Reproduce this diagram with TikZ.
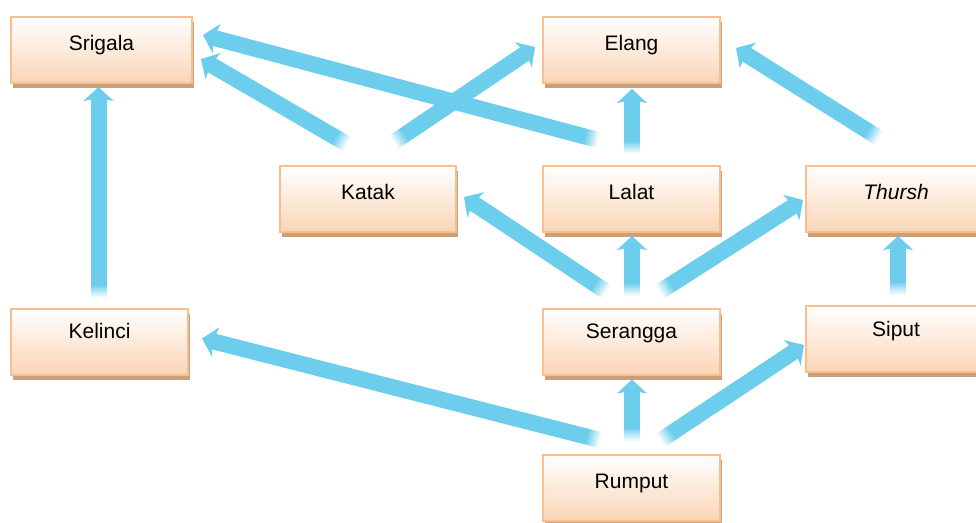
\documentclass[tikz,border=0pt]{standalone}
\usepackage{fontspec}
\setmainfont{Liberation Sans}
\usetikzlibrary{calc,shadows,arrows.meta}
\definecolor{Sky}{HTML}{6CCDED}
\definecolor{Peach}{HTML}{FAD5B6}
\definecolor{Apricot}{HTML}{F9BE8C}
\definecolor{Tan}{HTML}{C9A07E}

% faded-tail arrow from #1 to #2
\newcommand\flowarrow[2]{%
  \draw[flow,-{Stealth[length=14pt,width=30pt,inset=3pt]}] ($(#1)!12pt!(#2)$) -- (#2);
  \foreach \a/\b/\op in {0pt/2pt/0.1,2pt/4pt/0.25,4pt/6pt/0.4,6pt/8pt/0.55,8pt/10pt/0.7,10pt/12pt/0.85}
    \draw[flow,opacity=\op] ($(#1)!\a!(#2)$) -- ($(#1)!\b!(#2)$);
}

\begin{document}
\begin{tikzpicture}[x=1pt,y=-1pt,
    chain/.style={draw=Apricot,line width=2pt,top color=white,bottom color=Peach,
      minimum width=177pt,text height=33pt,text depth=33pt,inner ysep=0pt,
      font=\fontsize{21}{25}\selectfont,
      drop shadow={shadow xshift=2pt,shadow yshift=-5pt,fill=Tan,opacity=1}},
    lower/.style={text height=30pt,text depth=36pt},
    flow/.style={draw=Sky,line width=16pt}]
    \useasboundingbox (0,0) rectangle (976,522);
    \node[chain,minimum width=181pt] (srigala) at (101.5,50) {Srigala};
    \node[chain] (elang) at (631.5,50) {Elang};
    \node[chain,minimum width=176pt] (katak) at (368,199) {Katak};
    \node[chain] (lalat) at (631.5,199) {Lalat};
    \node[chain,minimum width=180pt] (thursh) at (896,199) {\itshape Thursh};
    \node[chain,lower] (kelinci) at (99.5,341.5) {Kelinci};
    \node[chain,lower] (serangga) at (631.5,341.5) {Serangga};
    \node[chain,lower,minimum width=180pt] (siput) at (896,339) {Siput};
    \node[chain] (rumput) at (631.5,488) {Rumput};

    \foreach \src/\sx/\sy/\dst/\dx/\dy in {
      kelinci.north/-1/-10/srigala.south/-3/3,
      katak.north/-21/-21/srigala.east/8/9,
      lalat.north/-33.5/-25/srigala.east/10/-15,
      katak.north/26/-23/elang.west/-7/-3,
      lalat.north/0.5/-11/elang.south/0.5/5,
      thursh.north/-17/-27/elang.east/15/-2,
      serangga.north/-25.5/-16/katak.east/7/-2,
      serangga.north/0.5/-12/lalat.south/0.5/3,
      serangga.north/28.5/-16/thursh.west/-2/1,
      siput.north/2/-10/thursh.south/2/3,
      rumput.north/-31.5/-14/kelinci.east/13/-3,
      rumput.north/0.5/-13/serangga.south/0.5/4,
      rumput.north/29.5/-14/siput.west/-1/6}
    {
      \coordinate (tail) at ($(\src)+(\sx,\sy)$);
      \coordinate (head) at ($(\dst)+(\dx,\dy)$);
      \flowarrow{tail}{head}
    }
  \end{tikzpicture}
\end{document}
